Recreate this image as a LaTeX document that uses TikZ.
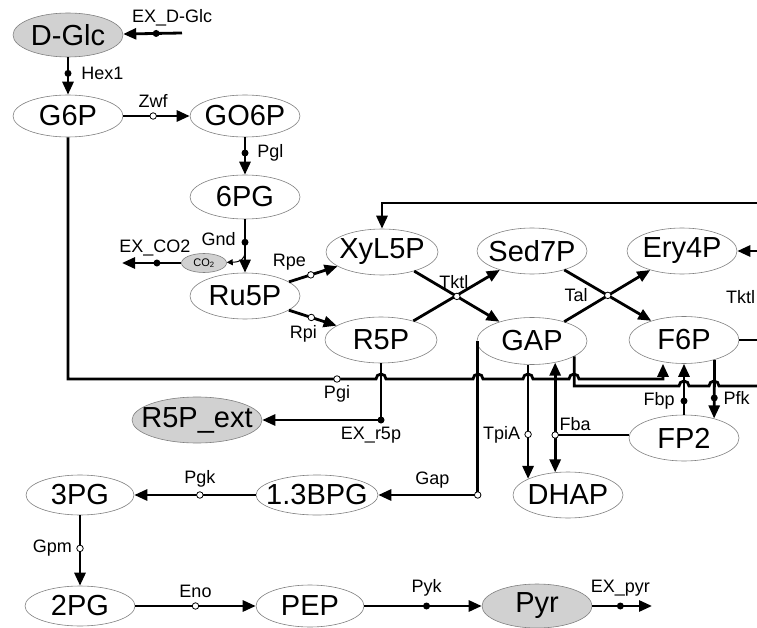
\documentclass[tikz,border=0pt]{standalone}
\usepackage{fontspec}
\setmainfont{Liberation Sans}
\usetikzlibrary{arrows.meta,positioning,shapes.geometric}

\begin{document}
\begin{tikzpicture}[
x=1pt, y=-1pt,
met/.style={ellipse, draw=black!50, line width=0.6pt, fill=white, minimum width=110pt, minimum height=46pt, inner sep=0pt, font=\fontsize{29}{31}\selectfont, execute at begin node={\hbox to 0pt\bgroup\hss}, execute at end node={\hss\egroup}},
extmet/.style={met, fill=black!18},
flux/.style={line width=2.8pt, -{Triangle[length=13pt,width=11pt]}},
link/.style={line width=2.8pt},
odot/.style={circle, draw, line width=0.8pt, fill=white, inner sep=0pt, minimum size=6.5pt},
fdot/.style={circle, fill, inner sep=0pt, minimum size=7pt},
lab/.style={font=\fontsize{18}{20}\selectfont, inner sep=1pt}
]
\useasboundingbox (0,0) rectangle (757,628);

% metabolites
\node[extmet, minimum height=44pt] (glc) at (68,35) {D-Glc};
\node[met, minimum height=42pt] (g6p) at (68,116) {G6P};
\node[met, minimum height=42pt] (go6p) at (245,116) {GO6P};
\node[met, minimum height=44pt] (pg6) at (245,197) {6PG};
\node[met] (ru5p) at (245,296) {Ru5P};
\node[met, minimum width=112pt] (xyl5p) at (382,252) {XyL5P};
\node[met, minimum width=112pt] (r5p) at (381,340) {R5P};
\node[met] (sed7p) at (532,251) {Sed7P};
\node[met] (ery4p) at (682,251) {Ery4P};
\node[met, minimum height=47pt] (gap) at (532,341) {GAP};
\node[met, minimum height=47pt] (f6p) at (684,340) {F6P};
\node[met] (fp2) at (684,438) {FP2};
\node[met] (dhap) at (568,495) {DHAP};
\node[extmet, minimum width=130pt] (r5pext) at (197,420) {R5P\_ext};
\node[met, minimum width=108pt, minimum height=40pt] (pg3) at (80,495) {3PG};
\node[met, minimum width=122pt, minimum height=40pt] (bpg) at (317,495) {1.3BPG};
\node[met, minimum height=40pt] (pg2) at (80,606) {2PG};
\node[met, minimum width=108pt, minimum height=42pt] (pep) at (310,606) {PEP};
\node[extmet, minimum height=44pt] (pyr) at (537,606) {Pyr};
\node[extmet, minimum width=45pt, minimum height=19pt, font=\fontsize{11}{12}\selectfont] (co2) at (204,263) {CO\textsubscript{2}};

% upper part
\coordinate (glcsrc) at (182,33);
\draw[flux] (glcsrc) -- node[fdot, pos=.44, label={[lab, xshift=16pt]above:EX\_D-Glc}] {} (glc);
\draw[flux] (glc) -- node[fdot, pos=.43, label={[lab, label distance=6pt]right:Hex1}] {} (g6p);
\draw[flux] (g6p) -- node[odot, pos=.45, label={[lab, label distance=2pt]above:Zwf}] {} (go6p);
\draw[flux] (go6p) -- node[fdot, pos=.42, label={[lab, label distance=5pt]right:Pgl}] {} (pg6);
\draw[flux] (pg6) -- node[fdot, pos=.43, label={[lab, yshift=3pt, label distance=2pt]left:Gnd}] {} (ru5p);
\coordinate (co2br) at (245,251);
\draw[line width=1pt, -{Triangle[length=6pt,width=6pt]}] (co2br) .. controls (245,260) and (240,262) .. (co2);
\coordinate (co2sink) at (122,263);
\draw[flux] (co2) -- node[fdot, pos=.41, label={[lab, xshift=-2pt]above:EX\_CO2}] {} (co2sink);
\draw[flux] (ru5p) -- node[odot, pos=.45, label={[lab]above left:Rpe}] {} (xyl5p);
\draw[flux] (ru5p) -- node[odot, pos=.47, label={[lab, xshift=-8pt, label distance=2pt]below:Rpi}] {} (r5p);

% transketolase / transaldolase
\draw[flux] (r5p) -- (sed7p);
\draw[flux] (xyl5p) -- node[odot, label={[lab, xshift=-3pt, label distance=2pt]above:Tktl}] (tktl) {} (gap);
\draw[flux] (gap) -- (ery4p);
\draw[flux] (sed7p) -- node[odot, label={[lab, label distance=14pt]left:Tal}] (tal) {} (f6p);
\coordinate (e4src) at (757,251);
\draw[flux] (e4src) -- (ery4p);
\coordinate (f6sink) at (757,340);
\draw[link] (f6p) -- (f6sink);
\coordinate (xylsrc) at (757,203);
\draw[flux] (xylsrc) -- (xylsrc -| xyl5p) -- (xyl5p);
\node[lab, anchor=west] (tktlr) at (725,297) {Tktl};

% Pgi and the GAP outlet
\draw[flux] (g6p) -- (g6p |- 0,379) \foreach \jx in {381,478,528,574} { -- (\jx-5,379) arc[start angle=180, end angle=0, radius=5pt] } -- (663,379) -- (663,0 |- f6p.south);
\node[odot, label={[lab, label distance=2pt]below:Pgi}] (pgi) at (337,379) {};
\coordinate (gapsink) at (757,386);
\draw[link] (gap.-20) -- (gap.-20 |- gapsink) \foreach \jx in {684,714} { -- (\jx-5,386) arc[start angle=180, end angle=0, radius=5pt] } -- (gapsink);

% lower glycolysis
\coordinate (gapl) at ([xshift=1pt]gap.west);
\draw[flux] (gapl) -- (gapl |- bpg) node[odot, label={[lab, xshift=-22pt, label distance=2pt]above left:Gap}] (gapr) {} -- (bpg);
\draw[flux] (dhap.158 |- gap.south) -- node[odot, pos=.61, label={[lab, label distance=2pt]left:TpiA}] {} (dhap.158);
\coordinate (fbajn) at (gap.-43 |- 0,435);
\draw[link] (fbajn -| fp2.west) -- (fbajn);
\draw[flux] (fbajn) -- (gap.-43);
\draw[flux] (fbajn) -- (fbajn |- dhap.120);
\node[odot, label={[lab, label distance=1pt]above right:Fba}] (fba) at (fbajn) {};
\draw[flux] (fp2) -- node[fdot, pos=.27, label={[lab, label distance=2pt]left:Fbp}] {} (f6p);
\draw[flux] (f6p.-33) -- node[fdot, pos=.65, label={[lab, label distance=2pt]right:Pfk}] {} (fp2.33);
\draw[flux] (r5p) -- (r5p |- r5pext) node[fdot, label={[lab, xshift=-10pt]below:EX\_r5p}] (exr5p) {} -- (r5pext);
\draw[flux] (bpg) -- node[odot, pos=.46, label={[lab, label distance=2pt]above:Pgk}] {} (pg3);
\draw[flux] (pg3) -- node[odot, pos=.47, label={[lab, label distance=2pt]left:Gpm}] {} (pg2);
\draw[flux] (pg2) -- node[odot, label={[lab, label distance=2pt]above:Eno}] {} (pep);
\draw[flux] (pep) -- node[fdot, pos=.53, label={[lab, label distance=2pt]above:Pyk}] {} (pyr);
\coordinate (pyrsink) at (652,606);
\draw[flux] (pyr) -- node[fdot, pos=.47, label={[lab, label distance=2pt]above:EX\_pyr}] {} (pyrsink);
\end{tikzpicture}
\end{document}
